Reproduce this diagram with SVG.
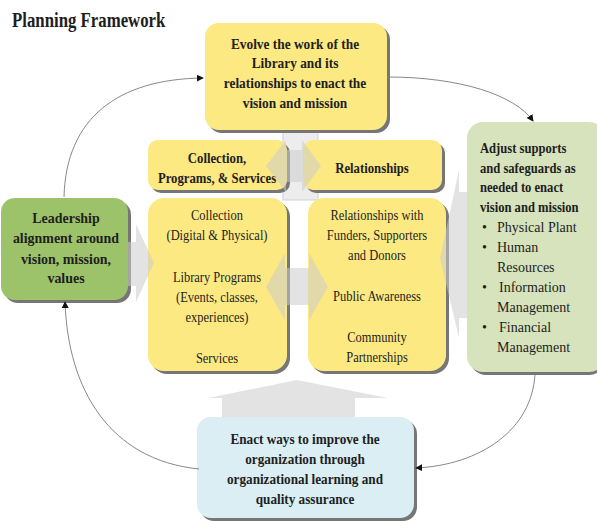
<svg xmlns="http://www.w3.org/2000/svg" width="597" height="521" viewBox="0 0 597 521">
<defs>
<marker id="ah" viewBox="0 0 8 8" refX="7" refY="4" markerWidth="7" markerHeight="7" markerUnits="userSpaceOnUse" orient="auto"><path d="M0,0 L8,4 L0,8 z" fill="#111"/></marker>
</defs>
<style>
.t{font-family:"Liberation Serif","Times New Roman",serif;fill:#1e1e1e}
.b{font-weight:bold}
.c{text-anchor:middle}
.f15{font-size:15px}
.f14{font-size:14px}
.sh{fill:#767676}
.yl{fill:#FCE982}
.conn{fill:none;stroke:#7a7a7a;stroke-width:0.9}
.big{fill:#cccccc;opacity:0.55}
</style>
<rect width="597" height="521" fill="#ffffff"/>
<text class="t b" font-size="20" transform="translate(12 27) scale(0.84 1)" x="0" y="0">Planning Framework</text>

<g id="flow-arrows-back">
<path class="big" d="M297,380 L388,398 L355,398 L355,420 L222,420 L222,398 L208,398 Z"/>
<rect x="283" y="128" width="35" height="72" fill="#ededed" stroke="#c8c8c8" stroke-width="0.8"/>
</g>

<g id="evolve">
<rect class="sh" x="208" y="26" width="182" height="107" rx="14"/>
<rect class="yl" x="205" y="23" width="182" height="107" rx="14"/>
<g class="t b f15 c" transform="translate(295 0) scale(0.89 1)">
<text x="0" y="49">Evolve the work of the</text>
<text x="0" y="68">Library and its</text>
<text x="0" y="88">relationships to enact the</text>
<text x="0" y="108">vision and mission</text>
</g>
</g>

<g id="cps-header">
<rect class="sh" x="151" y="143" width="139" height="50" rx="10"/>
<rect class="yl" x="148" y="140" width="139" height="50" rx="10"/>
<g class="t b f15 c" transform="translate(217 0) scale(0.85 1)">
<text x="0" y="163">Collection,</text>
<text x="0" y="183">Programs, &amp; Services</text>
</g>
</g>

<g id="rel-header">
<rect class="sh" x="306" y="143" width="139" height="50" rx="10"/>
<rect class="yl" x="303" y="140" width="139" height="50" rx="10"/>
<g class="t b f15 c" transform="translate(372 0) scale(0.85 1)">
<text x="0" y="173">Relationships</text>
</g>
</g>

<g id="cps-detail">
<rect class="sh" x="151" y="201" width="139" height="173" rx="16"/>
<rect class="yl" x="148" y="198" width="139" height="173" rx="16"/>
<g class="t f14 c" transform="translate(217 0) scale(0.89 1)">
<text x="0" y="220">Collection</text>
<text x="0" y="240">(Digital &amp; Physical)</text>
<text x="0" y="282">Library Programs</text>
<text x="0" y="302">(Events, classes,</text>
<text x="0" y="322">experiences)</text>
<text x="0" y="363">Services</text>
</g>
</g>

<g id="rel-detail">
<rect class="sh" x="311" y="201" width="138" height="173" rx="16"/>
<rect class="yl" x="308" y="198" width="138" height="173" rx="16"/>
<g class="t f14 c" transform="translate(377 0) scale(0.89 1)">
<text x="0" y="220">Relationships with</text>
<text x="0" y="240">Funders, Supporters</text>
<text x="0" y="260">and Donors</text>
<text x="0" y="301">Public Awareness</text>
<text x="0" y="342">Community</text>
<text x="0" y="362">Partnerships</text>
</g>
</g>

<g id="leadership">
<rect class="sh" x="4" y="201" width="127" height="102" rx="14"/>
<rect x="1" y="198" width="127" height="102" rx="14" fill="#9DC36A"/>
<g class="t b f15 c" transform="translate(66 0) scale(0.93 1)">
<text x="0" y="223">Leadership</text>
<text x="0" y="243">alignment around</text>
<text x="0" y="264">vision, mission,</text>
<text x="0" y="283">values</text>
</g>
</g>

<g id="adjust">
<rect class="sh" x="470" y="125" width="135" height="250" rx="16"/>
<rect x="467" y="122" width="138" height="250" rx="16" fill="#D6E3BC"/>
<g class="t b f14" transform="translate(480 0) scale(0.9 1)">
<text x="0" y="153">Adjust supports</text>
<text x="0" y="173">and safeguards as</text>
<text x="0" y="192">needed to enact</text>
<text x="0" y="212">vision and mission</text>
</g>
<g class="t f14">
<text x="482" y="232">•</text>
<text x="497" y="232">Physical Plant</text>
<text x="482" y="252">•</text>
<text x="497" y="252">Human</text>
<text x="497" y="272">Resources</text>
<text x="482" y="292">•</text>
<text x="499" y="292">Information</text>
<text x="497" y="312">Management</text>
<text x="482" y="332">•</text>
<text x="499" y="332">Financial</text>
<text x="497" y="352">Management</text>
</g>
</g>

<g id="enact">
<rect class="sh" x="200" y="420" width="217" height="101" rx="14"/>
<rect x="197" y="417" width="217" height="101" rx="14" fill="#DAEEF3"/>
<g class="t b f15 c" transform="translate(305 0) scale(0.88 1)">
<text x="0" y="444">Enact ways to improve the</text>
<text x="0" y="464">organization through</text>
<text x="0" y="484">organizational learning and</text>
<text x="0" y="504">quality assurance</text>
</g>
</g>

<g id="flow-arrows">
<path class="big" d="M266,166 L286,140 L286,150 L302,150 L302,140 L321,166 L302,192 L302,182 L286,182 L286,192 Z"/>
<path class="big" d="M266,287 L285,253 L285,268 L309,268 L309,253 L328,287 L309,320 L309,305 L285,305 L285,320 Z"/>
<path class="big" d="M128,242 L136,242 L136,224 L154,263 L136,302 L136,286 L128,286 Z"/>
<path class="big" d="M467,192 L459,192 L459,170 L440,258 L459,338 L459,318 L467,318 Z"/>
</g>

<g id="connectors">
<path class="conn" d="M64,197 C66,118 118,79 203,78" marker-end="url(#ah)"/>
<path class="conn" d="M387,77 C460,77 515,95 533,121" marker-end="url(#ah)"/>
<path class="conn" d="M535,374 C532,430 480,465 416,468" marker-end="url(#ah)"/>
<path class="conn" d="M199,469 C110,460 68,390 65,302" marker-end="url(#ah)"/>
</g>
</svg>
